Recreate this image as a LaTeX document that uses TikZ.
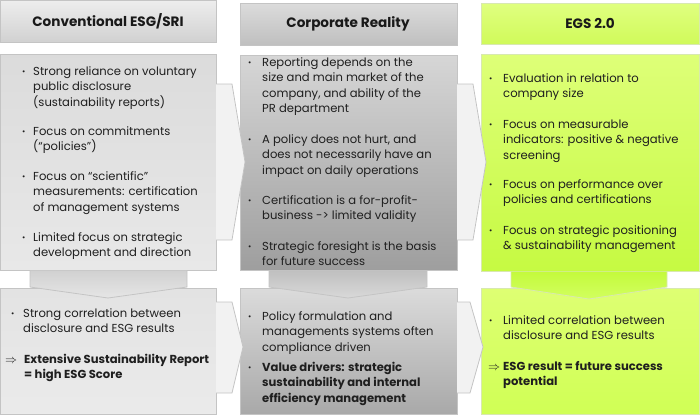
\documentclass[tikz,border=0pt]{standalone}
\usepackage{fontspec}
\usepackage{array}
\setmainfont{Poppins}
\definecolor{boxline}{HTML}{C4C4C4}
\definecolor{greenline}{HTML}{D8E8B0}
\newcommand\smbul{\raisebox{1.2pt}{\fontsize{8}{8}\selectfont\textbullet}}
\newcommand\bpara[2]{\begin{tabular}[t]{@{}p{#1}@{}l@{}}\smbul&\begin{tabular}[t]{@{}l@{}}#2\end{tabular}\end{tabular}}
\newcommand\bbpara[2]{\begin{tabular}[t]{@{}p{#1}@{}l@{}}\smbul&\begin{tabular}[t]{@{}>{\bfseries}l@{}}#2\end{tabular}\end{tabular}}
\newcommand\apara[2]{\begin{tabular}[t]{@{}p{#1}@{}l@{}}$\Rightarrow$&\begin{tabular}[t]{@{}>{\bfseries}l@{}}#2\end{tabular}\end{tabular}}
\tikzset{
  x=1pt, y=-1pt,
  frame/.style={draw=boxline, line width=0.8pt},
  gframe/.style={draw=greenline, line width=0.8pt},
  txt/.style={anchor=base west, inner sep=0pt, font=\fontsize{11.6}{15.3}\selectfont, text=black!88},
  head/.style={inner sep=0pt, font=\fontsize{13.6}{15}\selectfont\bfseries, text=black!90},
  chev/.style={draw=boxline, line width=0.8pt, fill=black!5},
}
\begin{document}
\begin{tikzpicture}
\useasboundingbox (0,0) rectangle (700,415);
% headers
\path[frame, top color=black!7, bottom color=black!18] (0,0.5) rectangle (216,42);
\path[frame, top color=black!14, bottom color=black!25] (240,3) rectangle (457,45);
\path[gframe, top color={rgb,255:red,224;green,255;blue,128}, bottom color={rgb,255:red,208;green,250;blue,90}] (481,3) rectangle (699.5,44);
\node[head] (h1) at (108,21) {Conventional ESG/SRI};
\node[head] (h2) at (348,24) {Corporate Reality};
\node[head] (h3) at (590,23) {EGS 2.0};
% top boxes
\path[frame, top color=black!14, bottom color=black!9] (0,54) rectangle (216,270);
\path[frame, top color=black!16, bottom color=black!38] (240,55) rectangle (457,270);
\path[gframe, top color={rgb,255:red,222;green,255;blue,120}, bottom color={rgb,255:red,198;green,250;blue,66}] (481,54) rectangle (699.5,271);
% bottom boxes
\path[frame, top color=black!11, bottom color=black!8] (0,288) rectangle (216,414.5);
\path[frame, top color=black!14, bottom color=black!34] (240,288) rectangle (457,414.5);
\path[gframe, top color={rgb,255:red,222;green,255;blue,115}, bottom color={rgb,255:red,208;green,255;blue,85}] (481,288) rectangle (699.5,414.5);
% right chevrons
\path[chev] (216,84) -- (232,84) -- (245,162) -- (232,240) -- (216,240);
\path[chev] (457,84) -- (473,84) -- (486,162) -- (473,240) -- (457,240);
\path[chev] (216,302) -- (232,302) -- (243,347) -- (232,393) -- (216,393);
\path[chev] (457,302) -- (470,302) -- (483,347) -- (470,393) -- (457,393);
% down chevrons
\path[frame, top color=black!18, bottom color=black!10] (30,270.5) -- (30,287) -- (108,298) -- (187,287) -- (187,270.5);
\path[frame, top color=black!25, bottom color=black!15] (269,270.5) -- (269,287) -- (348,298) -- (427,287) -- (427,270.5);
\path[gframe, top color={rgb,255:red,196;green,250;blue,60}, bottom color={rgb,255:red,210;green,255;blue,95}] (511,271.5) -- (511,287) -- (589,299) -- (667,287) -- (667,271.5);
% left top texts
\node[txt] (a1) at (22,75.5) {\bpara{11pt}{Strong reliance on voluntary\\public disclosure\\(sustainability reports)}};
\node[txt] (a2) at (22,135.5) {\bpara{11pt}{Focus on commitments\\(“policies”)}};
\node[txt] (a3) at (22,180.5) {\bpara{11pt}{Focus on “scientific”\\measurements: certification\\of management systems}};
\node[txt] (a4) at (22,241.5) {\bpara{11pt}{Limited focus on strategic\\development and direction}};
% middle top texts
\node[txt] (b1) at (248,66.5) {\bpara{14pt}{Reporting depends on the\\size and main market of the\\company, and ability of the\\PR department}};
\node[txt] (b2) at (248,143.5) {\bpara{14pt}{A policy does not hurt, and\\does not necessarily have an\\impact on daily operations}};
\node[txt] (b3) at (248,204.5) {\bpara{14pt}{Certification is a for-profit-\\business -> limited validity}};
\node[txt] (b4) at (248,250.5) {\bpara{14pt}{Strategic foresight is the basis\\for future success}};
% right top texts
\node[txt] (c1) at (489,82.5) {\bpara{14pt}{Evaluation in relation to\\company size}};
\node[txt] (c2) at (489,128.5) {\bpara{14pt}{Focus on measurable\\indicators: positive \& negative\\screening}};
\node[txt] (c3) at (489,188.5) {\bpara{14pt}{Focus on performance over\\policies and certifications}};
\node[txt] (c4) at (489,234.5) {\bpara{14pt}{Focus on strategic positioning\\\& sustainability management}};
% bottom texts
\node[txt] (d1) at (11,317.5) {\bpara{12pt}{Strong correlation between\\disclosure and ESG results}};
\node[txt] (d2) at (5,363.5) {\apara{19pt}{Extensive Sustainability Report\\= high ESG Score}};
\node[txt] (e1) at (248,320.5) {\bpara{14pt}{Policy formulation and\\managements systems often\\compliance driven}};
\node[txt] (e2) at (248,371.5) {\bbpara{14pt}{Value drivers: strategic\\sustainability and internal\\efficiency management}};
\node[txt] (f1) at (489,324.5) {\bpara{14pt}{Limited correlation between\\disclosure and ESG results}};
\node[txt] (f2) at (488,370.5) {\apara{15pt}{ESG result = future success\\potential}};
\end{tikzpicture}
\end{document}
